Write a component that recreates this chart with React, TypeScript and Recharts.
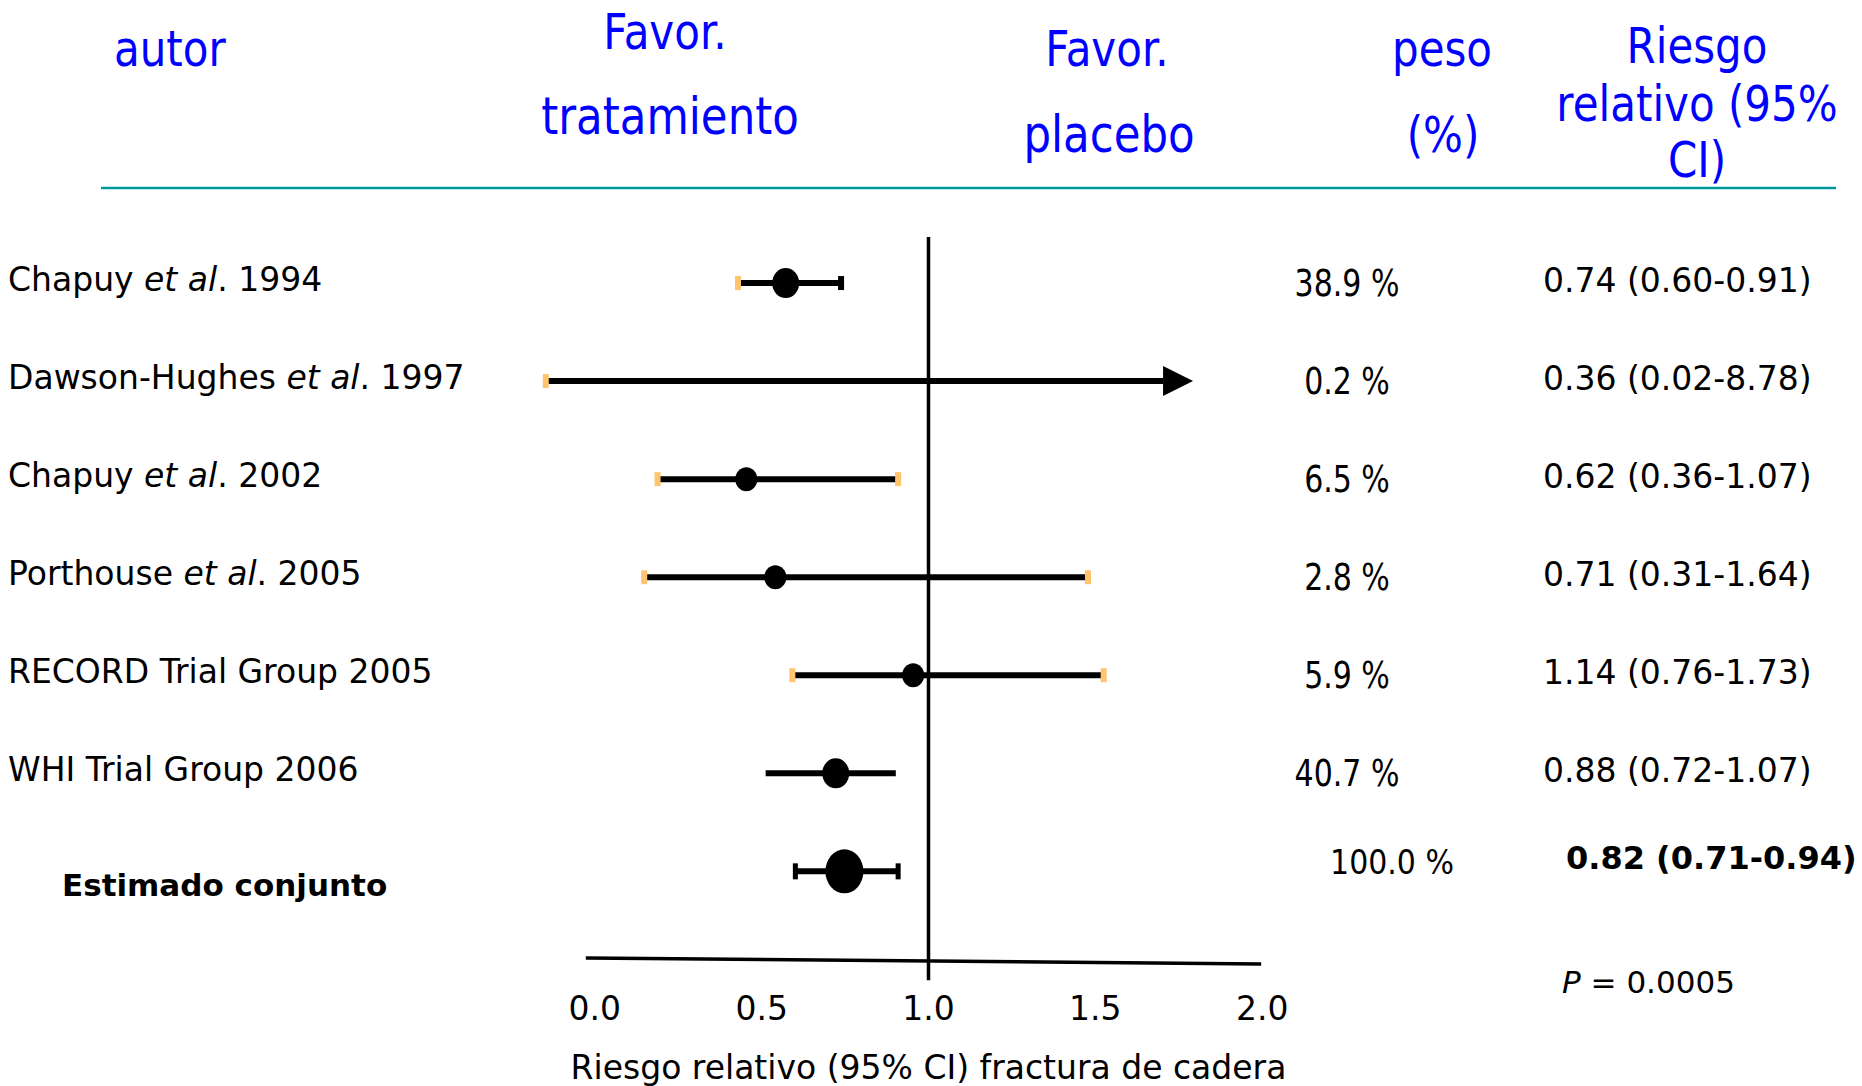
import React from 'react';
import { ComposedChart, XAxis, YAxis, Scatter, ReferenceLine, Customized } from 'recharts';

// ---------- data ----------
const studyLabels = [
  'Chapuy et al. 1994',
  'Dawson-Hughes et al. 1997',
  'Chapuy et al. 2002',
  'Porthouse et al. 2005',
  'RECORD Trial Group 2005',
  'WHI Trial Group 2006',
  'Estimado conjunto',
];
const weightLabels = ['38.9 %', '0.2 %', '6.5 %', '2.8 %', '5.9 %', '40.7 %', '100.0 %'];
const weightValues = [38.9, 0.2, 6.5, 2.8, 5.9, 40.7, 100];
const rrLabels = [
  '0.74 (0.60-0.91)',
  '0.36 (0.02-8.78)',
  '0.62 (0.36-1.07)',
  '0.71 (0.31-1.64)',
  '1.14 (0.76-1.73)',
  '0.88 (0.72-1.07)',
  '0.82 (0.71-0.94)',
];
// positions of the marks as drawn on the 0-2 axis
const pointDrawn: (number | null)[] = [0.572, null, 0.454, 0.541, 0.954, 0.722, 0.748];
const lowDrawn = [0.429, -0.147, 0.188, 0.148, 0.592, 0.512, 0.601];
const highDrawn = [0.738, 1.703, 0.909, 1.478, 1.525, 0.902, 0.909];
const leftCap = ['orange', 'orange', 'orange', 'orange', 'orange', 'none', 'black'];
const rightCap = ['black', 'arrow', 'orange', 'orange', 'orange', 'none', 'black'];
const xTicks = [0, 0.5, 1, 1.5, 2];
const nullValue = 1;
const nullLineSpan = [-0.47, 7.11];
const axisLineFrom = { x: -0.027, y: 6.884 };
const axisLineTo = { x: 1.997, y: 6.945 };
const pValueLabel = 'P';
const pValueRest = ' = 0.0005';
const axisTitle = 'Riesgo relativo (95% CI) fractura de cadera';
const headerAutor = 'autor';
const headerTreat = ['Favor.', 'tratamiento'];
const headerPlacebo = ['Favor.', 'placebo'];
const headerWeight = ['peso', '(%)'];
const headerRR = ['Riesgo', 'relativo (95%', 'CI)'];

// ---------- styles ----------
const FONT = 'DejaVu Sans';
const BLUE = '#0000FF';
const ORANGE = '#FFC46E';
const TEAL = '#009A9A';

const rows = studyLabels.map((_, i) => i);
const lastRow = rows.length - 1;
const dotData = rows
  .filter((i) => pointDrawn[i] !== null)
  .map((i) => ({ x: pointDrawn[i] as number, y: i, w: weightValues[i] }));
const capData: { x: number; y: number; kind: string; pooled: boolean }[] = [];
rows.forEach((i) => {
  if (leftCap[i] !== 'none') capData.push({ x: lowDrawn[i], y: i, kind: leftCap[i], pooled: i === lastRow });
  if (rightCap[i] === 'orange' || rightCap[i] === 'black')
    capData.push({ x: highDrawn[i], y: i, kind: rightCap[i], pooled: i === lastRow });
});
const arrowData = rows.filter((i) => rightCap[i] === 'arrow').map((i) => ({ x: highDrawn[i], y: i }));
const tableData = rows.map((i) => ({ x: nullValue, y: i }));

const renderLabel = (label: string) => {
  const idx = label.indexOf('et al.');
  if (idx < 0) return label;
  return (
    <>
      <tspan>{label.slice(0, idx)}</tspan>
      <tspan fontStyle="italic">et al</tspan>
      <tspan>{label.slice(idx + 5)}</tspan>
    </>
  );
};

const StudyTick = (props: any) => {
  const { y, payload } = props;
  const i = payload.value as number;
  if (i === lastRow) {
    return (
      <text x={62} y={y + 25} fontSize={31} fontWeight="bold" fontFamily={FONT} fill="#000">
        {studyLabels[i]}
      </text>
    );
  }
  return (
    <text x={8} y={y + 8} fontSize={33} fontFamily={FONT} fill="#000">
      {renderLabel(studyLabels[i])}
    </text>
  );
};

const DotShape = (props: any) => {
  const { cx, cy, payload } = props;
  const w = payload.w;
  const [rx, ry] = w >= 100 ? [19, 22] : w >= 30 ? [13.5, 15] : [11, 12];
  return <ellipse cx={cx} cy={cy} rx={rx} ry={ry} fill="#000" />;
};

const CapShape = (props: any) => {
  const { cx, cy, payload } = props;
  const h = payload.pooled ? 16 : 14;
  const wd = payload.pooled ? 5 : 6;
  return <rect x={cx - wd / 2} y={cy - h / 2} width={wd} height={h} fill={payload.kind === 'orange' ? ORANGE : '#000'} />;
};

const ArrowShape = (props: any) => {
  const { cx, cy } = props;
  return <path d={`M${cx},${cy - 15} L${cx + 30},${cy} L${cx},${cy + 15} Z`} fill="#000" />;
};

const TableShape = (props: any) => {
  const { cy, payload } = props;
  const i = payload.y as number;
  const pooled = i === lastRow;
  return (
    <g fontFamily={FONT} fill="#000">
      {pooled ? (
        <text transform={`translate(1392,${cy + 3}) scale(1,1.1)`} textAnchor="middle" fontSize={30}>
          {weightLabels[i]}
        </text>
      ) : (
        <text transform={`translate(1347,${cy + 13}) scale(1,1.25)`} textAnchor="middle" fontSize={30}>
          {weightLabels[i]}
        </text>
      )}
      <text
        x={pooled ? 1566 : 1543}
        y={cy + (pooled ? -2 : 9)}
        fontSize={pooled ? 32 : 33}
        fontWeight={pooled ? 'bold' : 'normal'}
      >
        {rrLabels[i]}
      </text>
      {pooled && (
        <text x={1562} y={cy + 122} fontSize={31}>
          <tspan fontStyle="italic">{pValueLabel}</tspan>
          <tspan>{pValueRest}</tspan>
        </text>
      )}
    </g>
  );
};

const HText = ({ x, y, children, anchor = 'middle', size = 42 }: any) => (
  <text
    transform={`translate(${x},${y}) scale(1,1.2)`}
    textAnchor={anchor}
    fontSize={size}
    fontFamily={FONT}
    fill={BLUE}
  >
    {children}
  </text>
);

const Header = () => (
  <g>
    <HText x={114} y={66} anchor="start">{headerAutor}</HText>
    <HText x={665} y={49}>{headerTreat[0]}</HText>
    <HText x={670} y={134} size={43.5}>{headerTreat[1]}</HText>
    <HText x={1107} y={66}>{headerPlacebo[0]}</HText>
    <HText x={1109} y={152} size={43.5}>{headerPlacebo[1]}</HText>
    <HText x={1442} y={66}>{headerWeight[0]}</HText>
    <HText x={1443} y={152}>{headerWeight[1]}</HText>
    <HText x={1697} y={63}>{headerRR[0]}</HText>
    <HText x={1697} y={121}>{headerRR[1]}</HText>
    <HText x={1697} y={177}>{headerRR[2]}</HText>
    <line x1={101} y1={188} x2={1836} y2={188} stroke={TEAL} strokeWidth={2.5} />
  </g>
);

const AxisTitle = (props: any) => {
  const vb = props.viewBox || { x: 428, width: 1001 };
  return (
    <text x={vb.x + vb.width / 2} y={1079} textAnchor="middle" fontSize={33} fontFamily={FONT} fill="#000">
      {axisTitle}
    </text>
  );
};

export default function App() {
  return (
    <div style={{ position: 'absolute', left: 0, top: 0, width: 1862, height: 1086, background: '#fff', fontFamily: FONT }}>
      <ComposedChart width={1862} height={1086} margin={{ top: 185, right: 433, bottom: 37, left: 0 }}>
        <XAxis
          type="number"
          dataKey="x"
          domain={[-0.5, 2.5]}
          ticks={xTicks}
          interval={0}
          tickFormatter={(v: number) => v.toFixed(1)}
          axisLine={false}
          tickLine={false}
          height={60}
          tick={{ fontSize: 33, fill: '#000', fontFamily: FONT }}
          label={<AxisTitle />}
        />
        <YAxis
          type="number"
          dataKey="y"
          domain={[-1, 7.2]}
          reversed
          ticks={rows}
          interval={0}
          width={428}
          axisLine={false}
          tickLine={false}
          tick={<StudyTick />}
        />
        <ReferenceLine
          segment={[{ x: nullValue, y: nullLineSpan[0] }, { x: nullValue, y: nullLineSpan[1] }]}
          stroke="#000"
          strokeWidth={3.5}
          ifOverflow="visible"
        />
        <ReferenceLine segment={[axisLineFrom, axisLineTo]} stroke="#000" strokeWidth={3.5} ifOverflow="visible" />
        {rows.map((i) => (
          <ReferenceLine
            key={'ci' + i}
            segment={[{ x: lowDrawn[i], y: i }, { x: highDrawn[i], y: i }]}
            stroke="#000"
            strokeWidth={6}
            ifOverflow="visible"
          />
        ))}
        <Scatter data={capData} shape={<CapShape />} isAnimationActive={false} />
        <Scatter data={arrowData} shape={<ArrowShape />} isAnimationActive={false} />
        <Scatter data={dotData} shape={<DotShape />} isAnimationActive={false} />
        <Scatter data={tableData} shape={<TableShape />} isAnimationActive={false} />
        <Customized component={<Header />} />
      </ComposedChart>
    </div>
  );
}
